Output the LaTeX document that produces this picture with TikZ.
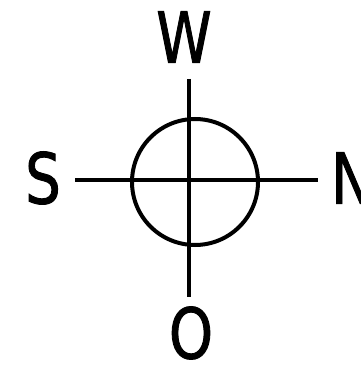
\documentclass[tikz,border=0pt]{standalone}
\usepackage{fontspec}
\setmainfont{DejaVu Sans}
\usepackage{tikz}
\newfontfamily\compassfont[FakeBold=1.5]{DejaVu Sans}
\tikzset{
  dirlabel/.style={font=\compassfont\fontsize{70}{70}\selectfont, inner sep=0pt,
                   xscale=0.8, transform shape},
  axisline/.style={line width=4pt, draw=black},
  ring/.style={circle, draw=black, line width=4pt, minimum size=126pt, inner sep=0pt},
}
\begin{document}
\begin{tikzpicture}[x=1pt, y=1pt]
  \useasboundingbox (0,0) rectangle (360,365);
  % compass ring
  \node[ring] (ring) at (195,183) {};
  % direction letters
  \node[dirlabel] (west) at (184,328) {W};
  \node[dirlabel] (south) at (43,187) {S};
  \node[dirlabel, anchor=west] (north) at (331,187) {N};
  \node[dirlabel] (ost) at (191,32) {O};
  % axis ends
  \coordinate (topend) at (189,286);
  \coordinate (botend) at (189,68);
  \coordinate (leftend) at (75,184.5);
  \coordinate (rightend) at (318,184.5);
  \draw[axisline] (topend) -- (botend);
  \draw[axisline] (leftend) -- (rightend);
\end{tikzpicture}
\end{document}
